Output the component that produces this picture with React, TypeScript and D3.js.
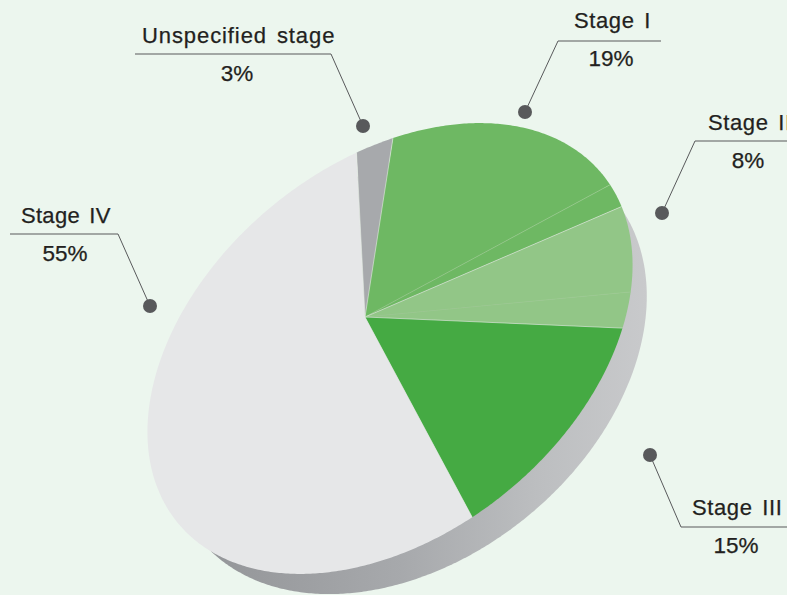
import React from 'react';
import * as d3 from 'd3';

// stage labels and the percentages printed next to them
const stageNames = ['Unspecified stage', 'Stage I', 'Stage II', 'Stage III', 'Stage IV'];
const stagePercents = [3, 19, 8, 15, 55];

// wedges as they are drawn in the picture (Stage I and II each have a seam)
const sliceStages = ['Unspecified stage', 'Stage I', 'Stage I', 'Stage II', 'Stage II', 'Stage III', 'Stage IV'];
const sliceShares = [2.4, 17.9, 2.1, 6.8, 2.6, 14.9, 53.3];
const stageColors = ['#a7a9ac', '#6eb863', '#92c687', '#45aa43', '#e6e7e8'];

const W = 787;
const H = 595;

// tilted ellipse of the pie top, apex is off centre
const cx = 390;
const cy = 348.5;
const rx = 274.7;
const ry = 184.9;
const tilt = (-39.4 * Math.PI) / 180;
const apex: [number, number] = [365, 317];
const startT = (-69 * Math.PI) / 180;

// rim ellipse sits behind the top, pushed along the short axis
const rimRx = 268;
const rimRy = 190;
const rimPush = 27;
const rimDx = -rimPush * Math.sin(tilt);
const rimDy = rimPush * Math.cos(tilt);

const ellipsePoint = (t: number, a = rx, b = ry, dx = 0, dy = 0): [number, number] => {
  const u = a * Math.cos(t);
  const v = b * Math.sin(t);
  return [cx + dx + u * Math.cos(tilt) - v * Math.sin(tilt), cy + dy + u * Math.sin(tilt) + v * Math.cos(tilt)];
};

const color = d3.scaleOrdinal<string, string>().domain(stageNames).range(stageColors);
const pie = d3
  .pie<number>()
  .sort(null)
  .startAngle(startT)
  .endAngle(startT + 2 * Math.PI);
const line = d3.line();

const arcPoints = (a0: number, a1: number) => {
  const n = Math.ceil((a1 - a0) / 0.01);
  return d3.range(n + 1).map((i) => ellipsePoint(a0 + ((a1 - a0) * i) / n));
};

// callout layout
const callouts = [
  { stage: 0, dot: [363, 126], elbow: [331, 54], end: [135, 54], nameX: 142, nameY: 43, nameW: 193, pctX: 237, pctY: 81 },
  { stage: 1, dot: [525, 112], elbow: [558, 41], end: [661, 41], nameX: 574, nameY: 28, pctX: 611, pctY: 66 },
  { stage: 2, dot: [662, 213], elbow: [695, 141], end: [790, 141], nameX: 708, nameY: 130, pctX: 748, pctY: 168 },
  { stage: 3, dot: [650, 455], elbow: [681, 527], end: [790, 527], nameX: 692, nameY: 515, pctX: 736, pctY: 553 },
  { stage: 4, dot: [150, 306], elbow: [118, 234], end: [10, 234], nameX: 21, nameY: 223, nameW: 90, pctX: 65, pctY: 261 },
];

export default function App() {
  const arcs = pie(sliceShares);
  const rim = d3.range(0, 2 * Math.PI, 0.01).map((t) => ellipsePoint(t, rimRx, rimRy, rimDx, rimDy));

  return (
    <svg
      width={W}
      height={H}
      style={{ position: 'absolute', left: 0, top: 0, display: 'block', background: '#ecf6ee' }}
      fontFamily="'Liberation Sans', Arial, sans-serif"
    >
      <defs>
        <linearGradient id="rim" gradientUnits="userSpaceOnUse" x1={200} y1={0} x2={650} y2={0}>
          <stop offset="0" stopColor="#939598" />
          <stop offset="0.45" stopColor="#a7a9ac" />
          <stop offset="0.75" stopColor="#bcbec0" />
          <stop offset="1" stopColor="#c9cacc" />
        </linearGradient>
      </defs>

      <path d={(line(rim) as string) + 'Z'} fill="url(#rim)" />

      {arcs.map((a, i) => {
        const pts = [apex, ...arcPoints(a.startAngle, a.endAngle)] as [number, number][];
        return <path key={i} d={(line(pts) as string) + 'Z'} fill={color(sliceStages[i])} />;
      })}
      {arcs.map((a, i) => (
        <path
          key={i}
          d={line([apex, ellipsePoint(a.startAngle)]) as string}
          stroke={sliceStages[i] === sliceStages[i - 1] ? (sliceStages[i] === 'Stage II' ? '#9ccc91' : '#9fd094') : '#e6efe4'}
          strokeWidth={0.6}
          fill="none"
        />
      ))}

      {callouts.map((c) => (
        <g key={c.stage}>
          <path
            d={line([c.dot, c.elbow, c.end] as [number, number][]) as string}
            fill="none"
            stroke="#58595b"
            strokeWidth={1}
          />
          <circle cx={c.dot[0]} cy={c.dot[1]} r={7} fill="#58595b" />
          <text
            x={c.nameX}
            y={c.nameY}
            fontSize={22}
            letterSpacing={0.6}
            wordSpacing={3}
            fill="#231f20"
            stroke="#231f20"
            strokeWidth={0.25}
            textLength={c.nameW}
          >
            {stageNames[c.stage]}
          </text>
          <text
            x={c.pctX}
            y={c.pctY}
            textAnchor="middle"
            fontSize={22.5}
            fill="#231f20"
            stroke="#231f20"
            strokeWidth={0.25}
          >
            {stagePercents[c.stage]}%
          </text>
        </g>
      ))}
    </svg>
  );
}
